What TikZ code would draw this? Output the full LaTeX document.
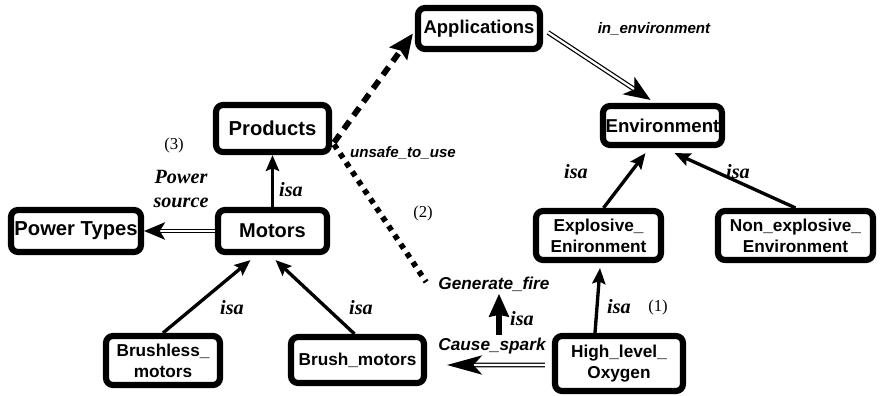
\documentclass[tikz,border=0pt]{standalone}
\usepackage{fontspec}
\setmainfont{Liberation Serif}
\setsansfont{Liberation Sans}
\usetikzlibrary{calc,arrows.meta,positioning}

\begin{document}
\begin{tikzpicture}[x=0.02cm,y=-0.02cm]

\tikzset{box/.style={draw,line width=3.5pt,rounded corners=4pt,inner sep=0pt,align=center,font=\sffamily\bfseries\fontsize{9.8}{12}\selectfont},
bigbox/.style={box,font=\sffamily\bfseries\fontsize{11}{13}\selectfont},
rel/.style={font=\sffamily\bfseries\itshape\fontsize{8.6}{10}\selectfont,inner sep=0pt},
relbig/.style={font=\sffamily\bfseries\itshape\fontsize{9.8}{11}\selectfont,inner sep=0pt},
isalabel/.style={font=\bfseries\itshape\fontsize{11.5}{14}\selectfont,inner sep=0pt,align=center},
num/.style={font=\fontsize{9.5}{11}\selectfont,inner sep=0pt},
isaarrow/.style={line width=1.9pt,-{Stealth[length=9pt,width=7.5pt,inset=1.5pt]}},
dblarrow/.style={double,line width=0.7pt,double distance=1.3pt,-{Stealth[length=12pt,width=10pt,inset=3pt]}}}

\useasboundingbox (0,0) rectangle (880,396);

% Boxes
\node[bigbox,minimum width=2.44cm,minimum height=0.82cm,font=\sffamily\bfseries\fontsize{10.5}{12}\selectfont] (applications) at (479,28.5) {Applications};
\node[bigbox,minimum width=2.38cm,minimum height=0.78cm,font=\sffamily\bfseries\fontsize{10.6}{12}\selectfont] (environment) at (662.5,125.5) {Environment};
\node[bigbox,minimum width=2.26cm,minimum height=0.94cm,font=\sffamily\bfseries\fontsize{11.5}{13}\selectfont] (products) at (272.5,128.5) {Products};
\node[bigbox,minimum width=2.18cm,minimum height=0.84cm,font=\sffamily\bfseries\fontsize{11.4}{13}\selectfont] (motors) at (272.5,231) {Motors};
\node[bigbox,minimum width=2.6cm,minimum height=0.84cm,font=\sffamily\bfseries\fontsize{11.5}{13}\selectfont] (powertypes) at (76,231) {Power Types};
\node[box,minimum width=2.28cm,minimum height=0.98cm] (brushless) at (163,360.5) {Brushless\_\\motors};
\node[box,minimum width=2.66cm,minimum height=0.92cm] (brush) at (357.5,360) {Brush\_motors};
\node[box,minimum width=2.5cm,minimum height=0.98cm] (explosive) at (598.5,235.5) {Explosive\_\\Enironment};
\node[box,minimum width=3.1cm,minimum height=0.98cm] (nonexplosive) at (795.5,235.5) {Non\_explosive\_\\Environment};
\node[box,minimum width=2.56cm,minimum height=1.1cm] (oxygen) at (619,363.5) {High\_level\_\\Oxygen};

% Text nodes
\node[relbig] (generatefire) at (494,284) {Generate\_fire};
\node[relbig] (causespark) at (492,346) {Cause\_spark};

% Edge labels
\node[isalabel] (isa1) at (291,190) {isa};
\node[isalabel] (isa2) at (232,308) {isa};
\node[isalabel] (isa3) at (361,308) {isa};
\node[isalabel] (isa4) at (522,319) {isa};
\node[isalabel] (isa5) at (619,307) {isa};
\node[isalabel] (isa6) at (576,172) {isa};
\node[isalabel] (isa7) at (738,172) {isa};
\node[isalabel] (powersource) at (181,189) {Power\\source};
\node[rel] (unsafe) at (403,153) {unsafe\_to\_use};
\node[rel] (inenv) at (654,29) {in\_environment};
\node[num] (n1) at (658,307) {(1)};
\node[num] (n2) at (423,213) {(2)};
\node[num] (n3) at (174,145) {(3)};

% Edges
\draw[isaarrow] (motors) -- (products);
\draw[isaarrow] (brushless.north) -- ($(motors.south)+(-22,5)$);
\draw[isaarrow] ($(brush.north)+(-3,0)$) -- ($(motors.south)+(3,5)$);
\draw[isaarrow] ($(oxygen.north)+(-24,0)$) -- ($(explosive.south)+(1.5,5)$);
\draw[isaarrow] ($(explosive.north)+(5,0)$) -- ($(environment.south)+(-17,5)$);
\draw[isaarrow] (nonexplosive.north) -- ($(environment.south)+(12,5)$);
\draw[line width=3pt,-{Stealth[length=13pt,width=11pt,inset=1pt]}] ($(causespark.north)+(7,-3)$) -- ($(generatefire.south)+(5,2)$);
\draw[dblarrow] (motors) -- (powertypes);
\draw[dblarrow,-{Stealth[length=20pt,width=11pt,inset=5pt]}] ($(oxygen.west)+(-7,1.5)$) -- ($(brush.east)+(20,5)$);
\draw[dblarrow,-{Stealth[length=15pt,width=12pt,inset=4pt]}] ($(applications.east)+(5,4)$) -- ($(environment.north)+(-12,-3)$);
\draw[line width=3.3pt,dash pattern=on 5.5pt off 4pt,-{Stealth[length=14pt,width=12pt,inset=2pt]}] ($(products.east)+(2,14)$) -- ($(applications.west)+(-2,5)$);
\draw[line width=3.2pt,dash pattern=on 3pt off 3.2pt] ($(products.east)+(2,16)$) -- ($(generatefire.west)+(-12,-2)$);

\end{tikzpicture}
\end{document}
